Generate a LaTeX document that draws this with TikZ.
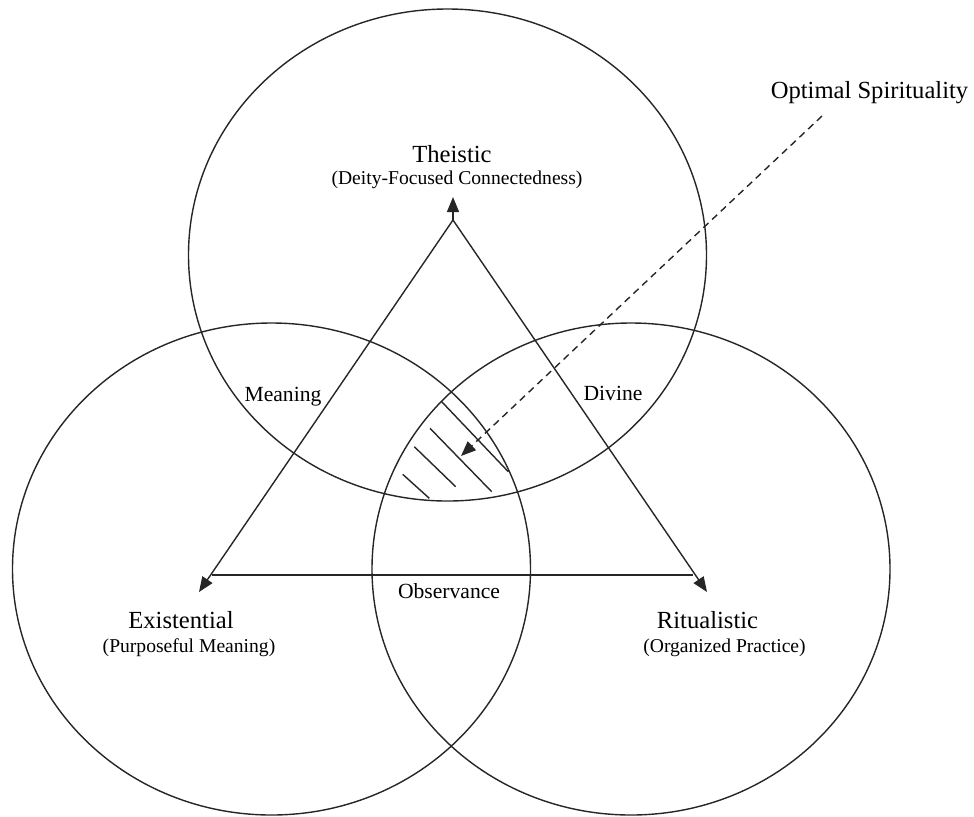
\documentclass[tikz,border=0pt]{standalone}
\usepackage{fontspec}
\setmainfont{Liberation Serif}
\usetikzlibrary{arrows.meta}
\begin{document}
\begin{tikzpicture}[x=0.5pt,y=-0.5pt,
  ring/.style={draw=black!85,line width=0.7pt},
  edge/.style={draw=black!85,line width=0.7pt},
  tip/.style={-{Triangle[length=7.5pt,width=6pt]}},
  hatch/.style={draw=black!85,line width=0.7pt},
  big/.style={font=\fontsize{12.3}{14}\selectfont,anchor=base,inner sep=0pt},
  mid/.style={font=\fontsize{10.8}{13}\selectfont,anchor=base,inner sep=0pt},
  small/.style={font=\fontsize{9.8}{12}\selectfont,anchor=base,inner sep=0pt}]
\useasboundingbox (0,0) rectangle (974,816);
% circles
\coordinate (ct) at (447.5,255);
\coordinate (cl) at (271.5,569);
\coordinate (cr) at (631,569);
\draw[ring] (ct) ellipse [x radius=129.5pt, y radius=123pt];
\draw[ring] (cl) ellipse [x radius=129.5pt, y radius=123pt];
\draw[ring] (cr) ellipse [x radius=129.5pt, y radius=123pt];
% triangle
\coordinate (apex) at (453,220);
\coordinate (toptip) at (453,197);
\coordinate (ltip) at (199,592);
\coordinate (rtip) at (707,592);
\coordinate (lbase) at (212,575);
\coordinate (rbase) at (693,575);
\draw[edge,tip] (apex) -- (toptip);
\draw[edge,tip] (apex) -- (ltip);
\draw[edge,tip] (apex) -- (rtip);
\draw[edge] (lbase) -- (rbase);
% hatching
\coordinate (h1a) at (441.7,401.7); \coordinate (h1b) at (508.3,471.7);
\coordinate (h2a) at (430,428.3);   \coordinate (h2b) at (491.7,491.7);
\coordinate (h3a) at (414.3,446.7); \coordinate (h3b) at (455.7,486.7);
\coordinate (h4a) at (402.7,474.3); \coordinate (h4b) at (429.3,498.3);
\draw[hatch] (h1a) -- (h1b);
\draw[hatch] (h2a) -- (h2b);
\draw[hatch] (h3a) -- (h3b);
\draw[hatch] (h4a) -- (h4b);
% labels
\node[big] (the) at (452,162) {Theistic};
\node[small] (thes) at (457,184) {(Deity-Focused Connectedness)};
\node[big] (exi) at (181,628) {Existential};
\node[small] (exis) at (189,652) {(Purposeful Meaning)};
\node[big] (rit) at (707.5,628) {Ritualistic};
\node[small] (rits) at (724.5,652) {(Organized Practice)};
\node[big] (opt) at (869.5,98) {Optimal Spirituality};
\node[mid] (mea) at (283,401) {Meaning};
\node[mid] (div) at (613,400) {Divine};
\node[mid] (obs) at (449,598) {Observance};
% pointer
\coordinate (dstart) at (822,116);
\coordinate (dtip) at (461,456);
\draw[edge,dash pattern=on 3.5pt off 2.5pt,tip] (dstart) -- (dtip);
\end{tikzpicture}
\end{document}
